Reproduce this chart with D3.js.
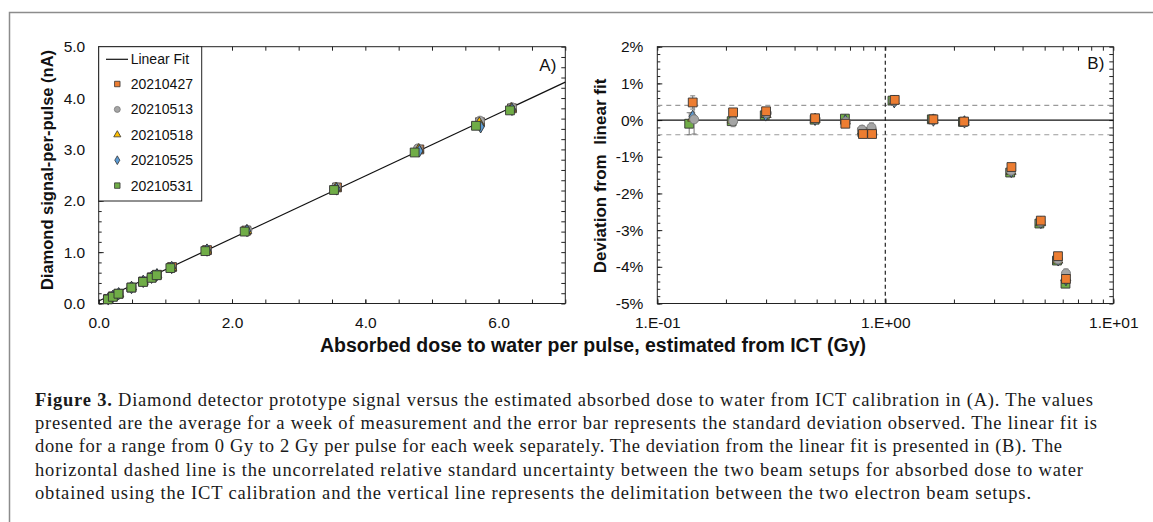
<!DOCTYPE html>
<html>
<head>
<meta charset="utf-8">
<script src="https://cdn.jsdelivr.net/npm/d3@7"></script>
<style>
  body { margin: 0; background: #fff; }
  svg { display: block; font-family: Arial, "Liberation Sans", sans-serif; }
  .tick text { font-size: 15.5px; fill: #111; }
</style>
</head>
<body>
<div id="chart"></div>
<script>
// series names and colours
var seriesNames = ["20210427", "20210513", "20210518", "20210525", "20210531"];
var seriesFill = ["#ED7D31", "#A5A5A5", "#FFC000", "#5B9BD5", "#70AD47"];
var seriesShape = ["square", "circle", "triangle", "diamond", "square"];

// dose per pulse (Gy) for each week
var dose0427 = [0.143, 0.215, 0.300, 0.492, 0.668, 0.798, 0.875, 1.100, 1.625, 2.215, 3.575, 4.810, 5.720, 6.200];
var dose0513 = [0.145, 0.215, 0.302, 0.495, 0.670, 0.790, 0.870, 1.090, 1.620, 2.230, 3.560, 4.790, 5.720, 6.200];
var dose0518 = [0.143, 0.213, 0.300, 0.493, 0.668, 0.795, 0.872, 1.095, 1.620, 2.220, 3.560, 4.800, 5.710, 6.190];
var dose0525 = [0.143, 0.214, 0.299, 0.492, 0.668, 0.793, 0.874, 1.095, 1.625, 2.225, 3.570, 4.810, 5.730, 6.200];
var dose0531 = [0.138, 0.212, 0.296, 0.490, 0.665, 0.793, 0.870, 1.075, 1.600, 2.190, 3.530, 4.740, 5.660, 6.170];

// diamond signal per pulse (nA)
var sig0427 = [0.09, 0.14, 0.19, 0.31, 0.43, 0.51, 0.56, 0.71, 1.04, 1.42, 2.26, 3.00, 3.53, 3.80];
var sig0513 = [0.09, 0.14, 0.19, 0.32, 0.43, 0.51, 0.56, 0.70, 1.04, 1.43, 2.27, 3.02, 3.56, 3.82];
var sig0518 = [0.09, 0.14, 0.19, 0.32, 0.43, 0.51, 0.56, 0.70, 1.04, 1.42, 2.25, 3.00, 3.52, 3.80];
var sig0525 = [0.09, 0.14, 0.19, 0.31, 0.43, 0.51, 0.56, 0.70, 1.04, 1.42, 2.23, 2.97, 3.44, 3.78];
var sig0531 = [0.08, 0.13, 0.19, 0.31, 0.42, 0.50, 0.55, 0.69, 1.02, 1.40, 2.21, 2.94, 3.46, 3.76];

// deviation from linear fit (%)
var dev0427 = [0.48, 0.21, 0.24, 0.05, -0.10, -0.38, -0.38, 0.55, 0.02, -0.04, -1.28, -2.74, -3.71, -4.33];
var dev0513 = [0.02, -0.03, 0.19, 0.03, -0.04, -0.26, -0.20, 0.52, 0.01, -0.05, -1.38, -2.78, -3.80, -4.18];
var dev0518 = [0.05, 0.00, 0.15, 0.02, -0.03, -0.30, -0.28, 0.52, 0.00, -0.06, -1.40, -2.80, -3.82, -4.30];
var dev0525 = [0.10, 0.04, 0.14, 0.02, -0.02, -0.30, -0.30, 0.50, 0.00, -0.05, -1.40, -2.79, -3.81, -4.35];
var dev0531 = [-0.10, -0.03, 0.13, 0.01, 0.04, -0.33, -0.33, 0.53, 0.02, -0.05, -1.43, -2.82, -3.83, -4.46];

// standard deviation of the deviation (%)
var err0427 = [0.18, 0.05, 0.04, 0.03, 0.03, 0.03, 0.03, 0.04, 0.03, 0.03, 0.04, 0.03, 0.04, 0.05];
var err0513 = [0.40, 0.15, 0.06, 0.04, 0.04, 0.10, 0.12, 0.05, 0.03, 0.03, 0.05, 0.04, 0.05, 0.12];
var err0518 = [0.10, 0.05, 0.04, 0.03, 0.03, 0.05, 0.05, 0.04, 0.03, 0.03, 0.04, 0.04, 0.04, 0.05];
var err0525 = [0.10, 0.05, 0.04, 0.03, 0.03, 0.05, 0.05, 0.04, 0.03, 0.03, 0.04, 0.04, 0.04, 0.05];
var err0531 = [0.30, 0.08, 0.04, 0.03, 0.03, 0.05, 0.05, 0.04, 0.03, 0.03, 0.04, 0.04, 0.04, 0.06];

// linear fit line end points (Gy, nA)
var fitDose = [0, 7];
var fitSignal = [0.05, 4.31];

// uncertainty band (%) and setup delimitation (Gy)
var uncertLimits = [0.4, -0.4];
var setupLimit = 1.0;

var xTicksLeft = [0, 2, 4, 6];
var yTicksLeft = [0, 1, 2, 3, 4, 5];
var xTicksRight = [0.1, 1, 10];
var yTicksRight = [2, 1, 0, -1, -2, -3, -4, -5];

var captionLines = [
  ["Figure 3.", " Diamond detector prototype signal versus the estimated absorbed dose to water from ICT calibration in (A). The values"],
  ["", "presented are the average for a week of measurement and the error bar represents the standard deviation observed. The linear fit is"],
  ["", "done for a range from 0 Gy to 2 Gy per pulse for each week separately. The deviation from the linear fit is presented in (B). The"],
  ["", "horizontal dashed line is the uncorrelated relative standard uncertainty between the two beam setups for absorbed dose to water"],
  ["", "obtained using the ICT calibration and the vertical line represents the delimitation between the two electron beam setups."]
];
var captionWidths = [1058, 1062, 1027, 1048, 996];

var allDose = [dose0427, dose0513, dose0518, dose0525, dose0531];
var allSig = [sig0427, sig0513, sig0518, sig0525, sig0531];
var allDev = [dev0427, dev0513, dev0518, dev0525, dev0531];
var allErr = [err0427, err0513, err0518, err0525, err0531];

var w = 1153, h = 522;

var svg = d3.select("#chart").append("svg")
  .attr("width", w)
  .attr("height", h);

// outer figure frame (top and left only)
svg.append("path")
  .attr("d", "M9.5," + h + "V12.5H" + w)
  .attr("fill", "none")
  .attr("stroke", "#8c8c8c")
  .attr("stroke-width", 1.5);

var symbolType = {
  square: d3.symbolSquare, circle: d3.symbolCircle,
  triangle: d3.symbolTriangle, diamond: d3.symbolDiamond
};
function symbolPath(shape, size) {
  return d3.symbol().type(symbolType[shape]).size(size)();
}
var markerSize = { square: 78, circle: 64, triangle: 44, diamond: 44 };
var legendSize = { square: 30, circle: 28, triangle: 22, diamond: 22 };

// ---------- Panel A ----------
var xL = d3.scaleLinear().domain([0, 7]).range([98.7, 565.3]);
var yL = d3.scaleLinear().domain([0, 5]).range([303.5, 46.7]);

var gA = svg.append("g");

function addAxis(g, axis, transform) {
  var a = g.append("g").attr("transform", transform).call(axis);
  a.select(".domain").remove();
  a.selectAll(".tick line").attr("stroke", "#222");
  return a;
}

// minor ticks
addAxis(gA, d3.axisBottom(xL).tickValues(d3.range(0, 7.01, 0.5)).tickSize(-4).tickFormat(""), "translate(0," + yL(0) + ")");
addAxis(gA, d3.axisTop(xL).tickValues(d3.range(0, 7.01, 0.5)).tickSize(-4).tickFormat(""), "translate(0," + yL(5) + ")");
addAxis(gA, d3.axisLeft(yL).tickValues(d3.range(0, 5.01, 0.2)).tickSize(-3).tickFormat(""), "translate(" + xL(0) + ",0)");
addAxis(gA, d3.axisRight(yL).tickValues(d3.range(0, 5.01, 0.2)).tickSize(-4).tickFormat(""), "translate(" + xL(7) + ",0)");
// labelled ticks
addAxis(gA, d3.axisBottom(xL).tickValues(xTicksLeft).tickSize(-4).tickPadding(13).tickFormat(d3.format(".1f")), "translate(0," + yL(0) + ")");
addAxis(gA, d3.axisLeft(yL).tickValues(yTicksLeft).tickSize(-5).tickPadding(13.5).tickFormat(d3.format(".1f")), "translate(" + xL(0) + ",0)");

gA.append("rect")
  .attr("x", xL(0)).attr("y", yL(5))
  .attr("width", xL(7) - xL(0)).attr("height", yL(0) - yL(5))
  .attr("fill", "none").attr("stroke", "#222").attr("stroke-width", 1);

// fit line
gA.append("line")
  .attr("x1", xL(fitDose[0])).attr("y1", yL(fitSignal[0]))
  .attr("x2", xL(fitDose[1])).attr("y2", yL(fitSignal[1]))
  .attr("stroke", "#111").attr("stroke-width", 1.2);

// points (green drawn last, on top)
seriesNames.forEach(function(name, s) {
  var pts = allDose[s].map(function(d, i) { return { x: d, y: allSig[s][i] }; });
  gA.append("g").selectAll("path")
    .data(pts)
    .enter()
    .append("path")
    .attr("transform", function(d) { return "translate(" + xL(d.x) + "," + yL(d.y) + ")"; })
    .attr("d", symbolPath(seriesShape[s], markerSize[seriesShape[s]]))
    .attr("fill", seriesFill[s])
    .attr("stroke", s == 1 ? "#777" : "#333")
    .attr("stroke-width", 0.9);
});

// legend
var lg = gA.append("g");
lg.append("rect")
  .attr("x", xL(0)).attr("y", yL(5))
  .attr("width", 103).attr("height", 154.3)
  .attr("fill", "#fff").attr("stroke", "#222").attr("stroke-width", 1);
lg.append("line")
  .attr("x1", 106).attr("x2", 128).attr("y1", 59.3).attr("y2", 59.3)
  .attr("stroke", "#111").attr("stroke-width", 1.2);
lg.append("text").attr("x", 130.7).attr("y", 64.3)
  .style("font-size", "14px").attr("fill", "#111").text("Linear Fit");
seriesNames.forEach(function(name, s) {
  var yy = 84 + s * 25.4;
  lg.append("path")
    .attr("transform", "translate(117.3," + yy + ")")
    .attr("d", symbolPath(seriesShape[s], legendSize[seriesShape[s]]))
    .attr("fill", seriesFill[s])
    .attr("stroke", s == 1 ? "#777" : "#333")
    .attr("stroke-width", 0.8);
  lg.append("text").attr("x", 130.7).attr("y", yy + 5)
    .style("font-size", "14px").attr("fill", "#111").text(name);
});

gA.append("text")
  .attr("x", xL(7) - 9).attr("y", 71)
  .attr("text-anchor", "end")
  .style("font-size", "17px").attr("fill", "#111").text("A)");

gA.append("text")
  .attr("transform", "translate(53," + 170 + ") rotate(-90)")
  .attr("text-anchor", "middle")
  .style("font-size", "16.5px").style("font-weight", "bold").attr("fill", "#111")
  .text("Diamond signal-per-pulse (nA)");

// ---------- Panel B ----------
var xR = d3.scaleLog().domain([0.1, 10]).range([657.3, 1113.3]);
var yR = d3.scaleLinear().domain([-5, 2]).range([303.5, 46.7]);

var gB = svg.append("g");

function sciFormat(d) {
  var e = Math.round(Math.log10(d));
  var s = Math.abs(e) < 10 ? "0" + Math.abs(e) : "" + Math.abs(e);
  return "1.E" + (e < 0 ? "-" : "+") + s;
}

var logMinor = xR.ticks();
addAxis(gB, d3.axisBottom(xR).tickValues(logMinor).tickSize(-4).tickFormat(""), "translate(0," + yR(-5) + ")");
addAxis(gB, d3.axisTop(xR).tickValues(logMinor).tickSize(-4).tickFormat(""), "translate(0," + yR(2) + ")");
addAxis(gB, d3.axisLeft(yR).tickValues(d3.range(-5, 2.01, 0.2)).tickSize(-3).tickFormat(""), "translate(" + xR(0.1) + ",0)");
addAxis(gB, d3.axisRight(yR).tickValues(d3.range(-5, 2.01, 0.2)).tickSize(-4).tickFormat(""), "translate(" + xR(10) + ",0)");
addAxis(gB, d3.axisBottom(xR).tickValues(xTicksRight).tickSize(-5).tickPadding(13).tickFormat(sciFormat), "translate(0," + yR(-5) + ")");
addAxis(gB, d3.axisLeft(yR).tickValues(yTicksRight).tickSize(-5).tickPadding(14).tickFormat(function(d) { return d + "%"; }), "translate(" + xR(0.1) + ",0)");

gB.append("rect")
  .attr("x", xR(0.1)).attr("y", yR(2))
  .attr("width", xR(10) - xR(0.1)).attr("height", yR(-5) - yR(2))
  .attr("fill", "none").attr("stroke", "#222").attr("stroke-width", 1);

// uncertainty band
gB.selectAll(".unc")
  .data(uncertLimits)
  .enter()
  .append("line")
  .attr("x1", xR(0.1)).attr("x2", xR(10))
  .attr("y1", function(d) { return yR(d); }).attr("y2", function(d) { return yR(d); })
  .attr("stroke", "#9a9a9a").attr("stroke-width", 1.2)
  .attr("stroke-dasharray", "5,4");

// zero line
gB.append("line")
  .attr("x1", xR(0.1)).attr("x2", xR(10))
  .attr("y1", yR(0)).attr("y2", yR(0))
  .attr("stroke", "#111").attr("stroke-width", 1.3);

// setup delimitation
gB.append("line")
  .attr("x1", xR(setupLimit)).attr("x2", xR(setupLimit))
  .attr("y1", yR(2)).attr("y2", yR(-5))
  .attr("stroke", "#222").attr("stroke-width", 1.2)
  .attr("stroke-dasharray", "4,3");

// error bars and points; orange on top
var orderB = [4, 2, 3, 1, 0];
orderB.forEach(function(s) {
  var pts = allDose[s].map(function(d, i) { return { x: d, y: allDev[s][i], e: allErr[s][i] }; });
  var g = gB.append("g");
  g.selectAll(".eb")
    .data(pts)
    .enter()
    .append("path")
    .attr("d", function(d) {
      var cx = xR(d.x), t = yR(d.y + d.e), b = yR(d.y - d.e);
      return "M" + cx + "," + t + "V" + b + "M" + (cx - 2.5) + "," + t + "h5M" + (cx - 2.5) + "," + b + "h5";
    })
    .attr("fill", "none").attr("stroke", "#777").attr("stroke-width", 1);
  g.selectAll(".pt")
    .data(pts)
    .enter()
    .append("path")
    .attr("transform", function(d) { return "translate(" + xR(d.x) + "," + yR(d.y) + ")"; })
    .attr("d", symbolPath(seriesShape[s], markerSize[seriesShape[s]]))
    .attr("fill", seriesFill[s])
    .attr("stroke", s == 1 ? "#777" : "#333")
    .attr("stroke-width", 0.9);
});

gB.append("text")
  .attr("x", xR(10) - 9).attr("y", 69)
  .attr("text-anchor", "end")
  .style("font-size", "17px").attr("fill", "#111").text("B)");

gB.append("text")
  .attr("transform", "translate(606," + 176 + ") rotate(-90)")
  .attr("text-anchor", "middle")
  .attr("xml:space", "preserve")
  .style("white-space", "pre")
  .style("font-size", "17px").style("font-weight", "bold").attr("fill", "#111")
  .text("Deviation from  linear fit");

// shared x title
svg.append("text")
  .attr("x", 593).attr("y", 352)
  .attr("text-anchor", "middle")
  .style("font-size", "19.5px").style("font-weight", "bold").attr("fill", "#111")
  .text("Absorbed dose to water per pulse, estimated from ICT (Gy)");

// caption
var cap = svg.append("g")
  .style("font-family", "'Liberation Serif', 'DejaVu Serif', serif")
  .style("font-size", "18.5px")
  .attr("fill", "#1a1a1a");
captionLines.forEach(function(line, i) {
  var t = cap.append("text")
    .attr("x", 35).attr("y", 406 + i * 23.2)
    .attr("textLength", captionWidths[i])
    .attr("lengthAdjust", "spacing");
  if (line[0]) t.append("tspan").style("font-weight", "bold").text(line[0]);
  t.append("tspan").text(line[1]);
});
</script>
</body>
</html>
